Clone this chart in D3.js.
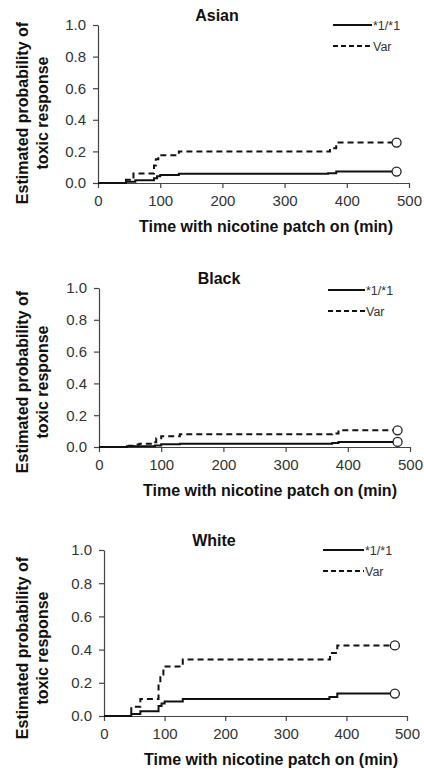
<!DOCTYPE html>
<html>
<head>
<meta charset="utf-8">
<script src="https://cdn.jsdelivr.net/npm/d3@7"></script>
<style>
  body { margin: 0; background: #fff; }
  svg { display: block; font-family: "Liberation Sans", Arial, sans-serif; }
  .tick text { font-size: 15px; fill: #333; }
  .domain, .tick line { stroke: #444; stroke-width: 1.2; }
  .title, .axis-title { font-weight: bold; font-size: 16px; fill: #111; }
  .legend text { font-size: 12.5px; fill: #333; }
</style>
</head>
<body>
<svg width="424" height="770"></svg>
<script>
// Kaplan-Meier style step estimates, [minutes, probability]
const asianWt  = [[0,0],[45,0.008],[60,0.018],[90,0.03],[95,0.042],[100,0.05],[130,0.058],[370,0.062],[383,0.072],[480,0.072]];
const asianVar = [[0,0],[45,0.02],[57,0.06],[90,0.11],[93,0.15],[97,0.175],[130,0.2],[373,0.22],[383,0.256],[480,0.256]];
const blackWt  = [[0,0],[45,0.004],[90,0.01],[100,0.018],[130,0.02],[375,0.025],[385,0.032],[480,0.032]];
const blackVar = [[0,0],[45,0.008],[55,0.015],[65,0.02],[88,0.03],[92,0.055],[100,0.068],[130,0.08],[375,0.085],[385,0.105],[480,0.105]];
const whiteWt  = [[0,0],[45,0.012],[60,0.028],[90,0.06],[95,0.075],[100,0.088],[130,0.102],[372,0.115],[385,0.135],[480,0.135]];
const whiteVar = [[0,0],[45,0.055],[60,0.103],[90,0.2],[93,0.25],[98,0.298],[130,0.34],[373,0.38],[385,0.425],[480,0.425]];

const groups = ["Asian", "Black", "White"];
const seriesNames = ["*1/*1", "Var"];
const xTicks = [0, 100, 200, 300, 400, 500];
const yTicks = [0, 0.2, 0.4, 0.6, 0.8, 1.0];

const seriesByGroup = [[asianWt, asianVar], [blackWt, blackVar], [whiteWt, whiteVar]];

// per-panel placement
const layout = [
  { left: 98,  right: 409, top: 25,  bottom: 183, titleX: 217, xTitleX: 266, yTitleY: 113, legX: 333, legW: 39, legY: 25 },
  { left: 99,  right: 410, top: 288, bottom: 447, titleX: 219, xTitleX: 270, yTitleY: 382, legX: 328, legW: 37, legY: 290 },
  { left: 104, right: 407, top: 550, bottom: 716, titleX: 214, xTitleX: 271, yTitleY: 648, legX: 323, legW: 41, legY: 550 }
];

const svg = d3.select("svg");
const dashes = [null, "6,4"];

groups.forEach((name, gi) => {
  const L = layout[gi];
  const x = d3.scaleLinear().domain([0, 500]).range([L.left, L.right]);
  const y = d3.scaleLinear().domain([0, 1]).range([L.bottom, L.top]);

  const g = svg.append("g");

  g.append("g")
    .attr("transform", `translate(0,${L.bottom})`)
    .call(d3.axisBottom(x).tickValues(xTicks).tickSize(5).tickPadding(7).tickSizeOuter(0))
    .call(a => a.selectAll("text").attr("font-family", null).attr("font-size", null));

  g.append("g")
    .attr("transform", `translate(${L.left},0)`)
    .call(d3.axisLeft(y).tickValues(yTicks).tickFormat(d3.format(".1f")).tickSize(5).tickPadding(7).tickSizeOuter(0))
    .call(a => a.selectAll("text").attr("font-family", null).attr("font-size", null));

  g.selectAll(".domain").attr("fill", "none");

  // title
  g.append("text").attr("class", "title")
    .attr("x", L.titleX).attr("y", L.top - 4)
    .attr("text-anchor", "middle").text(name);

  // x axis title
  g.append("text").attr("class", "axis-title")
    .attr("x", L.xTitleX).attr("y", L.bottom + 49)
    .attr("text-anchor", "middle").text("Time with nicotine patch on (min)");

  // y axis title (two lines)
  const yt = g.append("text").attr("class", "axis-title")
    .attr("transform", `translate(28,${L.yTitleY}) rotate(-90)`)
    .attr("text-anchor", "middle");
  yt.append("tspan").attr("x", 0).attr("y", 0).text("Estimated probability of");
  yt.append("tspan").attr("x", 0).attr("y", 20).text("toxic response");

  const line = d3.line()
    .x(d => x(d[0]))
    .y(d => y(d[1]))
    .curve(d3.curveStepAfter);

  seriesByGroup[gi].forEach((s, si) => {
    g.append("path")
      .datum(s)
      .attr("fill", "none")
      .attr("stroke", "#111")
      .attr("stroke-width", 2)
      .attr("stroke-dasharray", dashes[si])
      .attr("d", line);

    const last = s[s.length - 1];
    g.append("circle")
      .attr("cx", x(last[0])).attr("cy", y(last[1]))
      .attr("r", 4.5)
      .attr("fill", "#fff")
      .attr("stroke", "#222")
      .attr("stroke-width", 1.3);
  });

  // legend
  const leg = g.append("g").attr("class", "legend");
  seriesNames.forEach((sn, si) => {
    const ly = L.legY + si * 21;
    leg.append("line")
      .attr("x1", L.legX).attr("x2", L.legX + L.legW)
      .attr("y1", ly).attr("y2", ly)
      .attr("stroke", "#111").attr("stroke-width", 2)
      .attr("stroke-dasharray", si ? "5,3" : null);
    leg.append("text")
      .attr("x", L.legX + L.legW + 1).attr("y", ly + 4.5)
      .text(sn);
  });
});
</script>
</body>
</html>
